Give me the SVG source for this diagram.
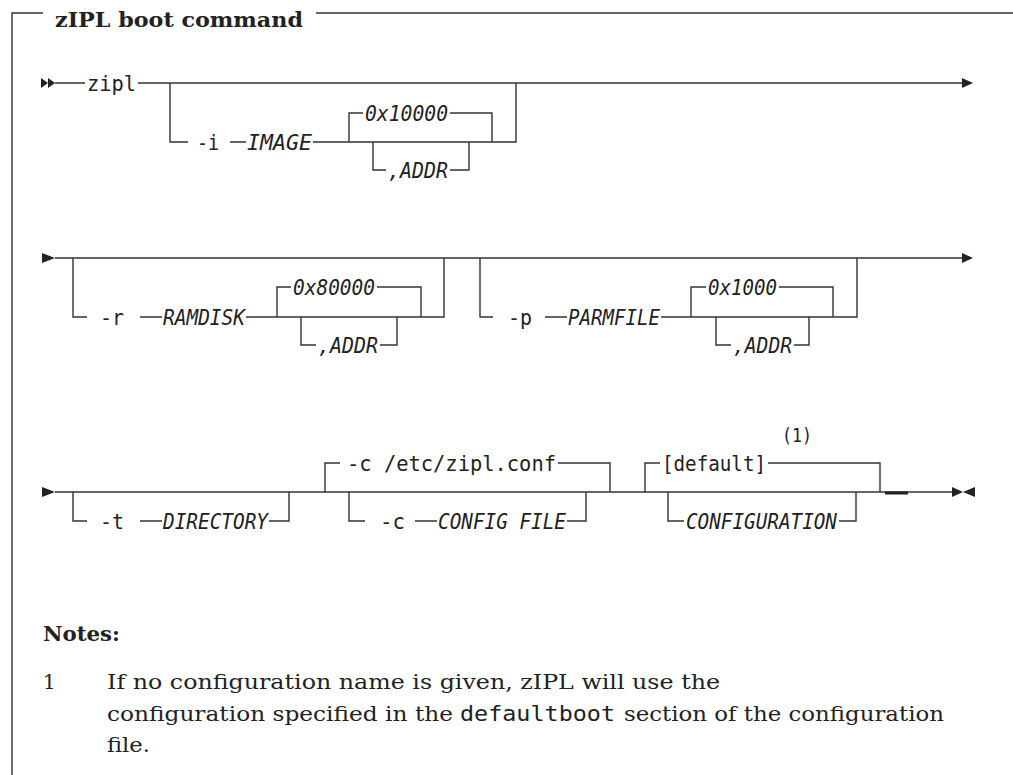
<svg xmlns="http://www.w3.org/2000/svg" width="1013" height="775" viewBox="0 0 1013 775">
<style>
  .ln { fill: none; stroke: #333; stroke-width: 1.4; }
  .thick { fill: none; stroke: #222; stroke-width: 3; }
  .ah { fill: #222; stroke: none; }
  .mono { font-family: "DejaVu Sans Mono", "Liberation Mono", monospace; font-size: 21px; fill: #222; }
  .it { font-style: italic; }
  .small { font-size: 19px; }
  .serif { font-family: "DejaVu Serif", "Liberation Serif", serif; font-size: 20px; fill: #222; }
  .bold { font-weight: bold; }
  .title { font-size: 21px; }
</style>
<rect x="0" y="0" width="1013" height="775" fill="#fff"/>

<g id="frame">
  <path class="ln" d="M12,775 V13 H43 M316,13 H1013"/>
</g>
<g id="title"><text class="serif bold title" x="55" y="27" textLength="248" lengthAdjust="spacingAndGlyphs">zIPL boot command</text></g>

<g id="connectors">
  <!-- row 1 -->
  <polygon class="ah" points="41,78 48,83 41,88"/>
  <polygon class="ah" points="48,78 55,83 48,88"/>
  <path class="ln" d="M55,83 H85 M138,83 H962"/>
  <polygon class="ah" points="962,78 973,83 962,88"/>
  <path class="ln" d="M170,83 V142 H188 M230,142 H246 M313,142 H516 V83"/>
  <path class="ln" d="M349,142 V113 H363 M450,113 H492 V142"/>
  <path class="ln" d="M373,142 V170 H386 M450,170 H469 V142"/>

  <!-- row 2 -->
  <polygon class="ah" points="42,253 55,258 42,263"/>
  <path class="ln" d="M55,258 H962"/>
  <polygon class="ah" points="962,253 973,258 962,263"/>
  <path class="ln" d="M73,258 V317 H87 M140,317 H162 M246,317 H444 V258"/>
  <path class="ln" d="M277,317 V287 H291 M377,287 H421 V317"/>
  <path class="ln" d="M301,317 V345 H316 M380,345 H397 V317"/>
  <path class="ln" d="M480,258 V317 H493 M545,317 H567 M661,317 H857 V258"/>
  <path class="ln" d="M691,317 V287 H706 M779,287 H833 V317"/>
  <path class="ln" d="M716,317 V345 H731 M794,345 H809 V317"/>

  <!-- row 3 -->
  <polygon class="ah" points="42,487 55,492 42,497"/>
  <path class="ln" d="M55,492 H952"/>
  <path class="ln" d="M73,492 V521 H87 M140,521 H162 M269,521 H289 V492"/>
  <path class="ln" d="M325,492 V463 H340 M558,463 H610 V492"/>
  <path class="ln" d="M349,492 V521 H365 M415,521 H437 M567,521 H586 V492"/>
  <path class="ln" d="M645,492 V463 H660 M768,463 H880 V492"/>
  <path class="ln" d="M668,492 V521 H684 M839,521 H856 V492"/>
  <path class="thick" d="M885,493 H908"/>
  <polygon class="ah" points="952,487 963,492 952,497"/>
  <polygon class="ah" points="975,487 963,492 975,497"/>
</g>

<g id="n-zipl"><text class="mono" x="87" y="91" textLength="49" lengthAdjust="spacingAndGlyphs">zipl</text></g>
<g id="n-i"><text class="mono" x="197" y="150" textLength="22" lengthAdjust="spacingAndGlyphs">-i</text></g>
<g id="n-image"><text class="mono it" x="247" y="150" textLength="65" lengthAdjust="spacingAndGlyphs">IMAGE</text></g>
<g id="n-0x10000"><text class="mono it" x="365" y="121" textLength="83" lengthAdjust="spacingAndGlyphs">0x10000</text></g>
<g id="n-addr1"><text class="mono it" x="388" y="178" textLength="60" lengthAdjust="spacingAndGlyphs">,ADDR</text></g>

<g id="n-r"><text class="mono" x="100" y="325" textLength="24" lengthAdjust="spacingAndGlyphs">-r</text></g>
<g id="n-ramdisk"><text class="mono it" x="163" y="325" textLength="82" lengthAdjust="spacingAndGlyphs">RAMDISK</text></g>
<g id="n-0x80000"><text class="mono it" x="293" y="295" textLength="82" lengthAdjust="spacingAndGlyphs">0x80000</text></g>
<g id="n-addr2"><text class="mono it" x="318" y="353" textLength="60" lengthAdjust="spacingAndGlyphs">,ADDR</text></g>
<g id="n-p"><text class="mono" x="508" y="325" textLength="24" lengthAdjust="spacingAndGlyphs">-p</text></g>
<g id="n-parmfile"><text class="mono it" x="568" y="325" textLength="92" lengthAdjust="spacingAndGlyphs">PARMFILE</text></g>
<g id="n-0x1000"><text class="mono it" x="708" y="295" textLength="69" lengthAdjust="spacingAndGlyphs">0x1000</text></g>
<g id="n-addr3"><text class="mono it" x="733" y="353" textLength="59" lengthAdjust="spacingAndGlyphs">,ADDR</text></g>

<g id="n-t"><text class="mono" x="100" y="529" textLength="24" lengthAdjust="spacingAndGlyphs">-t</text></g>
<g id="n-directory"><text class="mono it" x="163" y="529" textLength="105" lengthAdjust="spacingAndGlyphs">DIRECTORY</text></g>
<g id="n-cdefault"><text class="mono" x="347" y="471" textLength="209" lengthAdjust="spacingAndGlyphs">-c /etc/zipl.conf</text></g>
<g id="n-c"><text class="mono" x="380" y="529" textLength="25" lengthAdjust="spacingAndGlyphs">-c</text></g>
<g id="n-configfile"><text class="mono it" x="438" y="529" textLength="128" lengthAdjust="spacingAndGlyphs">CONFIG FILE</text></g>
<g id="n-default"><text class="mono" x="662" y="471" textLength="104" lengthAdjust="spacingAndGlyphs">[default]</text></g>
<g id="n-note1ref"><text class="mono small" x="782" y="442" textLength="30" lengthAdjust="spacingAndGlyphs">(1)</text></g>
<g id="n-configuration"><text class="mono it" x="686" y="529" textLength="151" lengthAdjust="spacingAndGlyphs">CONFIGURATION</text></g>

<g id="notes">
  <text class="serif bold" x="43" y="641" textLength="77" lengthAdjust="spacingAndGlyphs">Notes:</text>
  <text class="serif" x="43" y="689">1</text>
  <text class="serif" x="107" y="689" textLength="613" lengthAdjust="spacingAndGlyphs">If no configuration name is given, zIPL will use the</text>
  <text class="serif" x="107" y="721" textLength="346" lengthAdjust="spacingAndGlyphs">configuration specified in the</text>
  <text class="mono" x="460" y="721" textLength="155" lengthAdjust="spacingAndGlyphs">defaultboot</text>
  <text class="serif" x="624" y="721" textLength="320" lengthAdjust="spacingAndGlyphs">section of the configuration</text>
  <text class="serif" x="107" y="752" textLength="43" lengthAdjust="spacingAndGlyphs">file.</text>
</g>
</svg>
